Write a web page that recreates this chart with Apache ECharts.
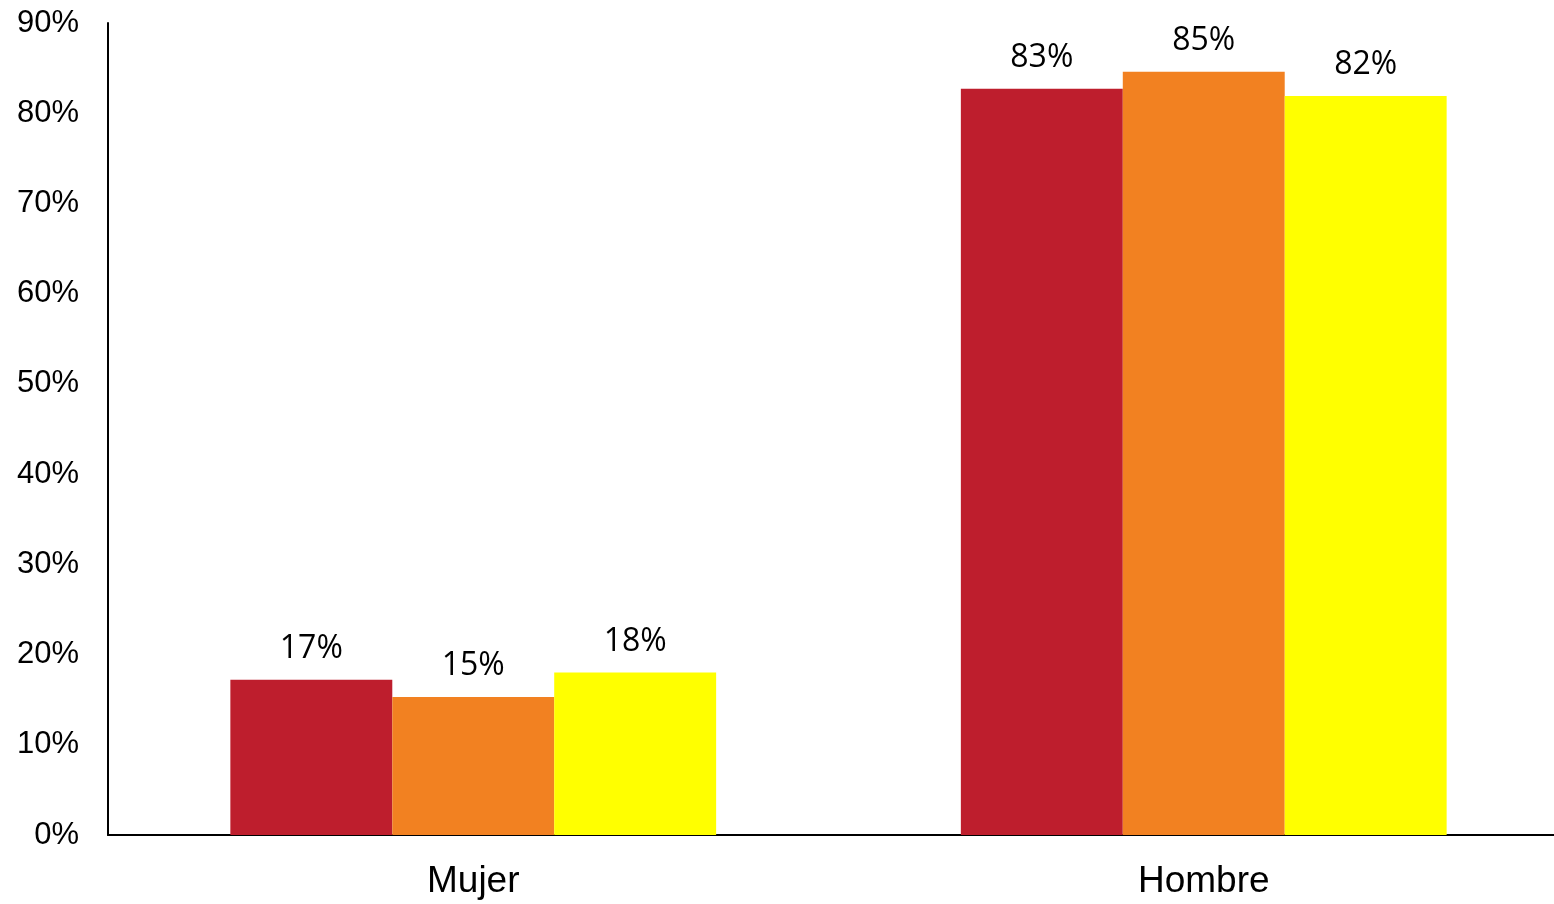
<!DOCTYPE html>
<html>
<head>
<meta charset="utf-8">
<script src="https://cdn.jsdelivr.net/npm/echarts@6/dist/echarts.min.js"></script>
<style>
  html, body { margin: 0; padding: 0; background: #fff; }
  #chart { width: 1554px; height: 904px; }
</style>
</head>
<body>
<div id="chart"></div>
<script>
const categories = ['Mujer', 'Hombre'];
const serieA = [17.2, 82.7];
const serieB = [15.3, 84.6];
const serieC = [18.0, 81.9];
const colors = ['#BE1E2D', '#F28121', '#FFFF00'];

const chartDom = document.querySelector('#chart');
const myChart = echarts.init(chartDom);

const barSeries = (name, data, color) => ({
  name,
  type: 'bar',
  data,
  barGap: '0%',
  barCategoryGap: '33.5%',
  itemStyle: { color },
  label: {
    show: true,
    position: 'top',
    distance: 15,
    color: '#000',
    fontFamily: 'Open Sans',
    fontSize: 32,
    formatter: (p) => Math.round(p.value) + '%',
  },
});

const option = {
  animation: false,
  // the plot runs a little past the right edge of the picture
  grid: { left: 108, width: 1461, top: 23, bottom: 69, outerBoundsMode: 'none' },
  xAxis: {
    type: 'category',
    data: categories,
    axisLine: { lineStyle: { color: '#000', width: 2 } },
    axisTick: { show: false },
    axisLabel: { color: '#000', fontFamily: 'Liberation Sans', fontSize: 37, margin: 28 },
  },
  yAxis: {
    type: 'value',
    min: 0,
    max: 90,
    interval: 10,
    axisLine: { show: true, lineStyle: { color: '#000', width: 2 } },
    axisTick: { show: false },
    splitLine: { show: false },
    axisLabel: {
      color: '#000',
      fontFamily: 'Liberation Sans',
      fontSize: 31,
      margin: 29,
      formatter: '{value}%',
    },
  },
  series: [
    barSeries('Serie 1', serieA, colors[0]),
    barSeries('Serie 2', serieB, colors[1]),
    barSeries('Serie 3', serieC, colors[2]),
  ],
};

option && myChart.setOption(option);
</script>
</body>
</html>
